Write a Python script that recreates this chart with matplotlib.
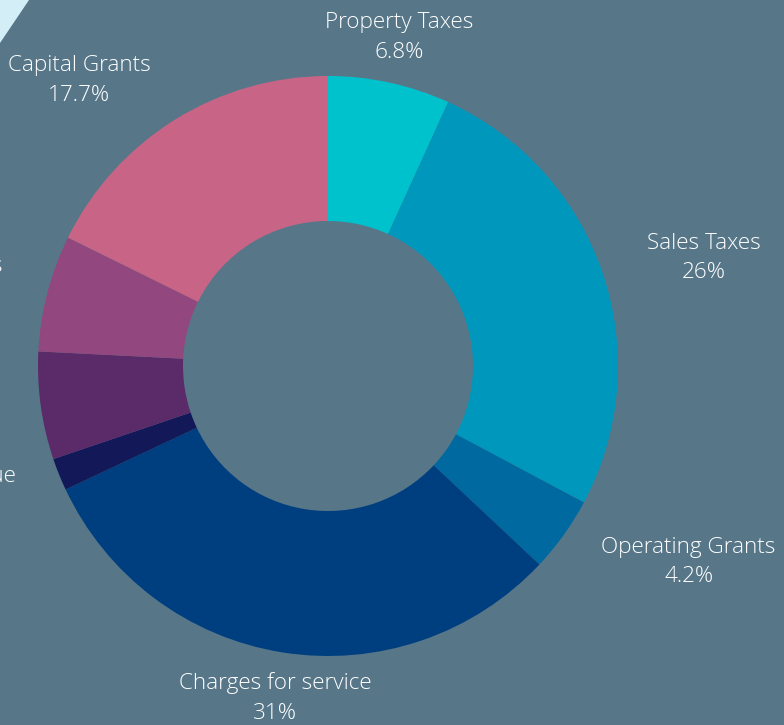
import numpy as np
import matplotlib.pyplot as plt
from matplotlib.patches import Polygon

labels = ['Property Taxes', 'Sales Taxes', 'Operating Grants', 'Charges for service',
          'Investment Revenue', 'Miscellaneous', 'Other Taxes', 'Capital Grants']
values = [6.8, 26, 4.2, 31, 1.8, 6.0, 6.5, 17.7]
pct_text = ['6.8%', '26%', '4.2%', '31%', '1.8%', '6%', '6.5%', '17.7%']
colors = ['#00c2cc', '#0097bd', '#0069a0', '#003f7f', '#121858', '#5a2a69', '#93477f', '#c86586']

bg = '#577789'
W, H = 784, 725
cx, cy, R = 328, 366, 290   # pixel position of the pie centre and radius

fig = plt.figure(figsize=(W / 100, H / 100), dpi=100, facecolor=bg)
# light corner in the top-left
fig.patches.append(Polygon([(0, 1), (29 / W, 1), (0, 1 - 43 / H)], closed=True,
                           transform=fig.transFigure, facecolor='#d4eef8',
                           edgecolor='none'))

ax = fig.add_axes([0, 0, 1, 1])
ax.set_facecolor('none')

wedges, _ = ax.pie(values, colors=colors, startangle=90, counterclock=False,
                   radius=1, wedgeprops=dict(width=0.5, edgecolor='none'))

# pie() resets the limits, so set them afterwards
ax.set_xlim(-cx / R, (W - cx) / R)
ax.set_ylim(-(H - cy) / R, cy / R)
ax.set_aspect('equal')
ax.axis('off')

for w, lab, p in zip(wedges, labels, pct_text):
    ang = np.deg2rad((w.theta1 + w.theta2) / 2)
    x, y = 1.16 * np.cos(ang), 1.16 * np.sin(ang)
    if np.cos(ang) > 0.35:
        ha = 'left'
    elif np.cos(ang) < -0.35:
        ha = 'right'
    else:
        ha = 'center'
    ax.text(x, y, lab + '\n' + p, ha=ha, va='center', ma='center',
            color='white', fontsize=16.2, family='Open Sans', fontweight='light',
            linespacing=1.55, clip_on=False)

plt.savefig('out.png', dpi=100, facecolor=bg)
